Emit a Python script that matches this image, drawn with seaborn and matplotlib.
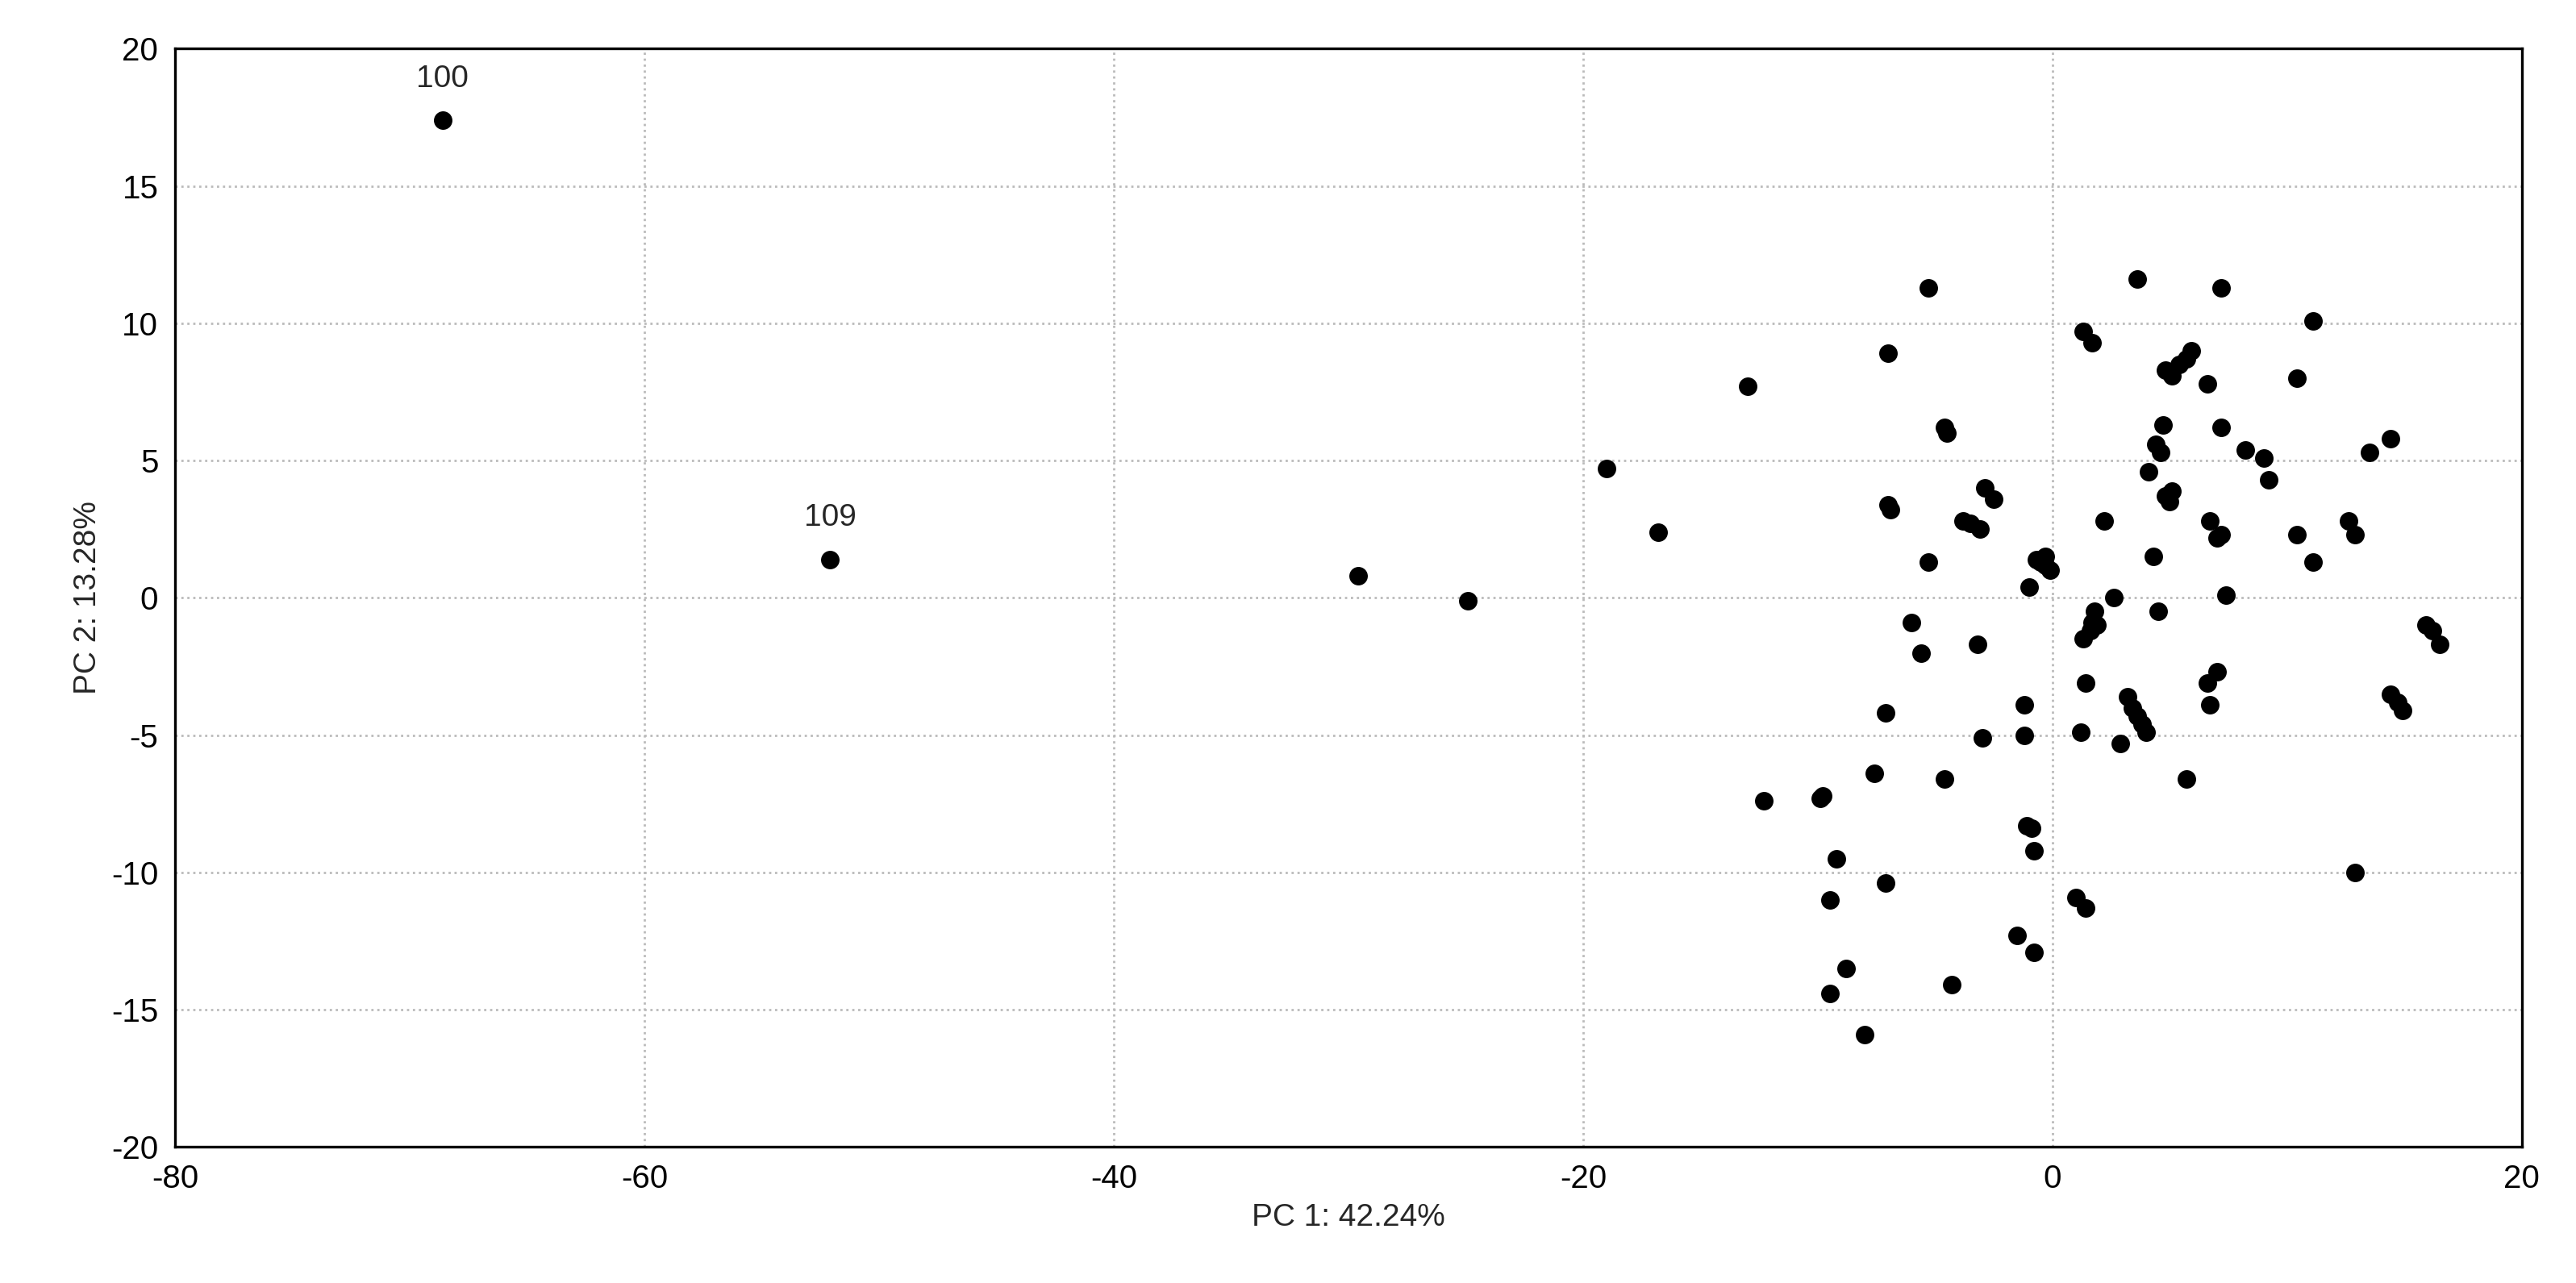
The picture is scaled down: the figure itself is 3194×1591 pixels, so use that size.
import matplotlib
matplotlib.use("Agg")
import matplotlib.pyplot as plt
import seaborn as sns
import pandas as pd

pc1 = [-68.6, -52.1, -29.6, -24.9, -19.0, -16.8, -13.0, -12.3, -9.9, -9.8, -9.2, -9.5, -8.8, -9.5, -8.0,
       -7.6, -7.1, -7.1, -7.0, -7.0, -6.9, -6.0, -5.6, -5.3, -5.3, -4.6, -4.5, -4.6, -4.3, -3.8, -3.5,
       -3.1, -3.2, -3.0, -2.9, -2.5, -1.5, -1.2, -1.2, -1.1, -0.9, -0.8, -0.8, -1.0, -0.7, -0.5, -0.3,
       -0.1, -0.3, 1.0, 1.4, 1.2, 1.3, 1.7, 1.4, 1.3, 1.6, 1.7, 1.8, 1.9, 2.2, 2.6, 2.9, 3.2, 3.4, 3.6,
       3.8, 4.0, 3.6, 4.1, 4.3, 4.5, 4.4, 4.6, 4.7, 4.8, 5.0, 5.1, 4.8, 5.1, 5.4, 5.7, 5.9, 5.7, 6.6,
       6.6, 6.7, 6.7, 7.0, 7.0, 7.2, 7.2, 7.2, 7.4, 8.2, 9.0, 9.2, 10.4, 11.1, 10.4, 11.1, 12.6, 12.9,
       12.9, 13.5, 14.4, 14.4, 14.7, 14.9, 15.9, 16.2, 16.5]
pc2 = [17.4, 1.4, 0.8, -0.1, 4.7, 2.4, 7.7, -7.4, -7.3, -7.2, -9.5, -11.0, -13.5, -14.4, -15.9,
       -6.4, -4.2, -10.4, 8.9, 3.4, 3.2, -0.9, -2.0, 11.3, 1.3, 6.2, 6.0, -6.6, -14.1, 2.8, 2.7,
       2.5, -1.7, -5.1, 4.0, 3.6, -12.3, -3.9, -5.0, -8.3, -8.4, -9.2, -12.9, 0.4, 1.4, 1.3, 1.5,
       1.0, 1.2, -10.9, -11.3, -4.9, 9.7, 9.3, -3.1, -1.5, -1.2, -0.9, -0.5, -1.0, 2.8, 0.0, -5.3, -3.6,
       -4.0, -4.3, -4.6, -4.9, 11.6, 4.6, 1.5, -0.5, 5.6, 5.3, 6.3, 3.7, 3.5, 3.9, 8.3, 8.1, 8.5, 8.7,
       9.0, -6.6, 7.8, -3.1, -3.9, 2.8, -2.7, 2.2, 2.3, 11.3, 6.2, 0.1, 5.4, 5.1, 4.3, 8.0, 10.1, 2.3,
       1.3, 2.8, 2.3, -10.0, 5.3, 5.8, -3.5, -3.8, -4.1, -1.0, -1.2, -1.7]
labels = {0: "100", 1: "109"}

df = pd.DataFrame({"pc1": pc1, "pc2": pc2})

sns.set_style("white")
plt.rcParams['font.family'] = ['Liberation Sans', 'DejaVu Sans']
plt.rcParams['axes.unicode_minus'] = False
fig = plt.figure(figsize=(15.97, 7.955), dpi=200)
ax = fig.add_axes([0.068, 0.106, 0.911, 0.856])
sns.scatterplot(data=df, x="pc1", y="pc2", ax=ax, color="black", s=60, edgecolor="black", linewidth=0.5, zorder=3)
for i, t in labels.items():
    ax.annotate(t, (pc1[i], pc2[i]), xytext=(0, 12), textcoords="offset points",
                ha="center", va="bottom", fontsize=14)
ax.set_xlim(-80, 20)
ax.set_ylim(-20, 20)
ax.set_xticks(range(-80, 21, 20))
ax.set_yticks(range(-20, 21, 5))
ax.grid(True, color="#bbbbbb", linestyle=":", linewidth=1.0)
for s in ax.spines.values():
    s.set_color("black")
    s.set_linewidth(1.2)
ax.tick_params(axis="both", labelsize=14.5, direction="out", length=4, color="black", labelcolor="black")
ax.set_xlabel("PC 1: 42.24%", fontsize=14)
ax.set_ylabel("PC 2: 13.28%", fontsize=14)
fig.savefig("out.png", dpi=200)
